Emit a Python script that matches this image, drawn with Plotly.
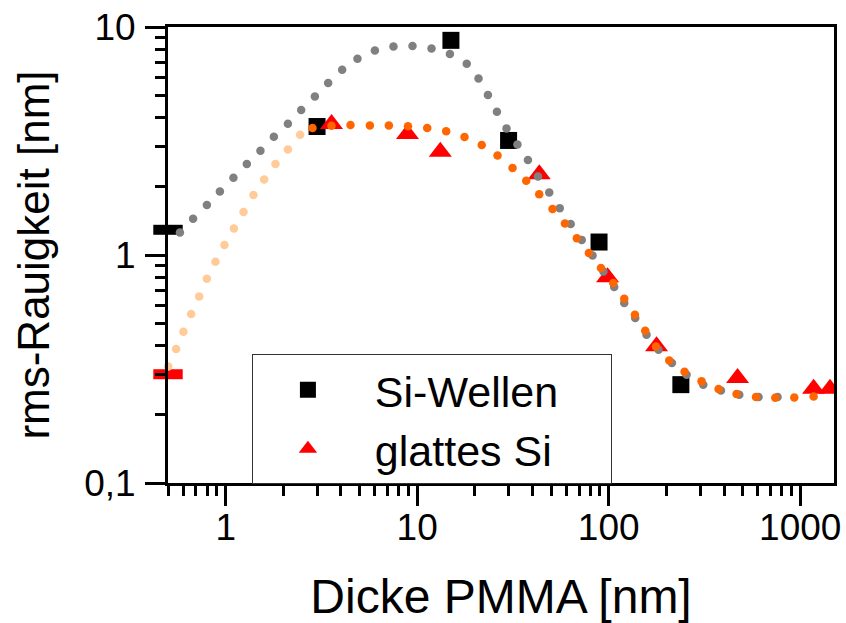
import plotly.graph_objects as go

# Si-Wellen (black squares)
si_wellen_x = [3.0, 15.0, 30.0, 89.0, 238.0]
si_wellen_y = [3.66, 8.74, 3.18, 1.14, 0.270]
# value at the left border (drawn as a flat bar)
si_wellen_edge_x = [0.5]
si_wellen_edge_y = [1.29]

# glattes Si (red triangles)
glatt_x = [3.57, 8.9, 13.2, 43.4, 98.6, 177.7, 470.6, 1174.0, 1430.0]
glatt_y = [3.75, 3.39, 2.84, 2.26, 0.798, 0.398, 0.289, 0.259, 0.259]
glatt_edge_x = [0.5]
glatt_edge_y = [0.30]

# fit curve Si-Wellen (grey dotted)
fit_wellen_x = [0.493, 0.577, 0.676, 0.798, 0.933, 1.098, 1.290, 1.519, 1.785, 2.113,
                2.480, 2.923, 3.429, 4.058, 4.878, 6.013, 7.518, 9.45, 11.88, 14.82,
                18.14, 20.90, 23.40, 26.08, 29.27, 33.37, 37.85, 42.74, 48.91, 55.48,
                63.33, 72.28, 82.32, 93.83, 106.8, 120.5, 137.5, 157.5, 182.0, 213.8,
                254.9, 311.5, 385.3, 480.3, 605.8, 761.3]
fit_wellen_y = [1.091, 1.256, 1.443, 1.657, 1.901, 2.183, 2.507, 2.868, 3.303, 3.766,
                4.325, 4.962, 5.680, 6.496, 7.261, 7.896, 8.221, 8.255, 8.056, 7.613,
                6.902, 5.951, 5.033, 4.251, 3.592, 3.056, 2.610, 2.212, 1.882, 1.604,
                1.368, 1.165, 0.996, 0.847, 0.724, 0.616, 0.529, 0.447, 0.384, 0.336,
                0.2985, 0.270, 0.2548, 0.244, 0.2383, 0.2383]

# fit curve glattes Si, extrapolated part (light orange)
fit_glatt_ext_x = [0.501, 0.5514, 0.602, 0.6605, 0.7272, 0.7978, 0.8846, 0.9857, 1.104,
                   1.239, 1.397, 1.589, 1.820, 2.113, 2.449]
fit_glatt_ext_y = [0.3246, 0.3871, 0.4609, 0.551, 0.6583, 0.7871, 0.9346, 1.106, 1.308,
                   1.545, 1.833, 2.146, 2.506, 2.905, 3.37]

# fit curve glattes Si (orange dotted)
fit_glatt_x = [2.840, 3.568, 4.485, 5.662, 7.115, 8.953, 11.28, 14.17, 17.66, 21.72,
               26.27, 31.46, 37.09, 43.36, 50.88, 59.06, 68.15, 78.72, 91.06, 105.6,
               120.5, 137.0, 155.1, 176.4, 207.0, 248.8, 305.2, 374.4, 464.9, 587.1,
               740.5, 930.5, 1174.0]
fit_glatt_y = [3.606, 3.691, 3.717, 3.702, 3.702, 3.672, 3.610, 3.491, 3.296, 3.037,
               2.734, 2.410, 2.118, 1.847, 1.593, 1.376, 1.185, 1.020, 0.877, 0.754,
               0.643, 0.547, 0.4656, 0.3972, 0.3449, 0.3078, 0.2791, 0.2584, 0.2457, 0.2383,
               0.2366, 0.2373, 0.2398]

x_tickvals = [1, 10, 100, 1000]
x_ticktext = ["1", "10", "100", "1000"]
x_minor = [0.5, 0.6, 0.7, 0.8, 0.9, 2, 3, 4, 5, 6, 7, 8, 9,
           20, 30, 40, 50, 60, 70, 80, 90, 200, 300, 400, 500, 600, 700, 800, 900]
y_tickvals = [0.1, 1, 10]
y_ticktext = ["0,1", "1", "10"]
y_minor = [0.2, 0.3, 0.4, 0.5, 0.6, 0.7, 0.8, 0.9, 2, 3, 4, 5, 6, 7, 8, 9]

FONT = "Liberation Sans, Arial, sans-serif"
NB = "\u00a0"

fig = go.Figure()

fig.add_trace(go.Scatter(x=si_wellen_x, y=si_wellen_y, mode="markers",
                         name=NB + "Si-Wellen" + NB * 4,
                         marker=dict(symbol="square", size=17, color="black")))
fig.add_trace(go.Scatter(x=glatt_x, y=glatt_y, mode="markers",
                         name=NB + "glattes Si",
                         marker=dict(symbol="triangle-up", size=20, color="#ff0000")))
fig.add_trace(go.Scatter(x=si_wellen_edge_x, y=si_wellen_edge_y, mode="markers",
                         showlegend=False, cliponaxis=False,
                         marker=dict(symbol="line-ew", size=21,
                                     line=dict(width=10, color="black"))))
fig.add_trace(go.Scatter(x=glatt_edge_x, y=glatt_edge_y, mode="markers",
                         showlegend=False, cliponaxis=False,
                         marker=dict(symbol="line-ew", size=21,
                                     line=dict(width=10, color="#ff0000"))))
fig.add_trace(go.Scatter(x=fit_wellen_x, y=fit_wellen_y, mode="markers",
                         showlegend=False, cliponaxis=False,
                         marker=dict(size=8.5, color="#808080")))
fig.add_trace(go.Scatter(x=fit_glatt_ext_x, y=fit_glatt_ext_y, mode="markers",
                         showlegend=False, cliponaxis=False,
                         marker=dict(size=8.5, color="#ffcc99")))
fig.add_trace(go.Scatter(x=fit_glatt_x, y=fit_glatt_y, mode="markers",
                         showlegend=False,
                         marker=dict(size=8.5, color="#ff6600")))

axis_common = dict(
    showline=True, linewidth=3, linecolor="black", mirror=True,
    ticks="outside", ticklen=20, tickwidth=3, tickcolor="black",
    showgrid=False, zeroline=False, automargin=False,
    tickfont=dict(family=FONT, size=37, color="black"),
)

fig.update_xaxes(type="log", range=[-0.30103, 3.17609],
                 tickmode="array", tickvals=x_tickvals, ticktext=x_ticktext,
                 ticklabelstandoff=-10,
                 minor=dict(tickmode="array", tickvals=x_minor, ticks="outside",
                            ticklen=10, tickwidth=3, tickcolor="black", showgrid=False),
                 title=dict(text="Dicke PMMA [nm]", font=dict(family=FONT, size=48, color="black"),
                            standoff=36),
                 **axis_common)
fig.update_yaxes(type="log", range=[-1, 1],
                 tickmode="array", tickvals=y_tickvals, ticktext=y_ticktext,
                 ticklabelstandoff=2,
                 minor=dict(tickmode="array", tickvals=y_minor, ticks="outside",
                            ticklen=10, tickwidth=3, tickcolor="black", showgrid=False),
                 title=dict(text="rms-Rauigkeit [nm]", font=dict(family=FONT, size=44, color="black"),
                            standoff=21),
                 **axis_common)

fig.update_layout(
    width=846, height=623,
    margin=dict(l=168, r=12, t=27, b=140),
    paper_bgcolor="white", plot_bgcolor="white",
    font=dict(family=FONT, color="black"),
    legend=dict(x=0.126, y=0.282, xanchor="left", yanchor="top",
                bgcolor="white", bordercolor="#333333", borderwidth=1,
                font=dict(family=FONT, size=43, color="black"),
                itemwidth=100, tracegroupgap=0),
)

fig.write_html(
    "out.html",
    config={"displayModeBar": False},
    post_script="document.body.style.margin='0px';"
                "document.documentElement.style.overflow='hidden';",
)
